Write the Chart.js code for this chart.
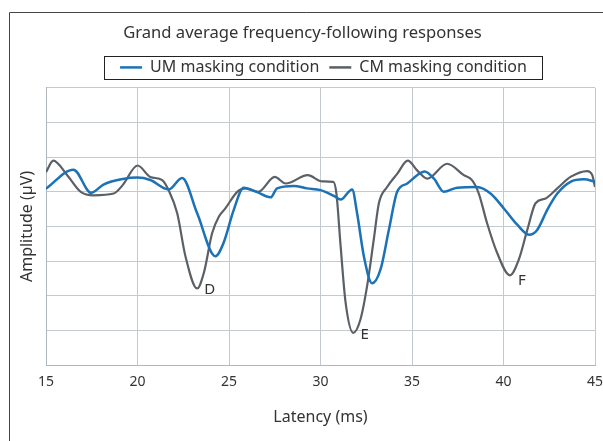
<!DOCTYPE html>
<html>
<head>
<meta charset="utf-8">
<script src="https://cdn.jsdelivr.net/npm/chart.js@4.4.0/dist/chart.umd.min.js"></script>
<style>
html, body { margin: 0; padding: 0; background: #fff; }
</style>
</head>
<body>
<canvas id="canvas_ffr" width="603" height="441"></canvas>
<script>
'use strict';
// latency (ms) and amplitude (arbitrary µV units, one grid step = 1)
var umLatency = [15.0, 16.5, 17.47, 18.14, 19.2, 20.0, 20.7, 21.7, 22.44, 23.26, 24.26, 24.7, 25.26, 25.8, 26.5, 27.27, 27.63, 28.54, 29.27, 30.0, 30.73, 31.1, 31.73, 32.0, 32.37, 32.82, 33.28, 33.74, 34.19, 34.74, 35.28, 35.69, 36.2, 36.74, 37.47, 38.56, 39.29, 40.02, 40.75, 41.39, 41.84, 42.39, 42.94, 43.66, 44.4, 45.0];
var umAmp     = [0.09, 0.64, -0.03, 0.21, 0.37, 0.41, 0.34, 0.07, 0.40, -0.62, -1.86, -1.48, -0.52, 0.12, 0.0, -0.16, 0.10, 0.17, 0.10, 0.05, -0.12, -0.22, 0.07, -0.62, -1.86, -2.64, -2.24, -1.09, 0.0, 0.24, 0.48, 0.59, 0.38, 0.0, 0.12, 0.14, -0.05, -0.48, -0.95, -1.24, -1.10, -0.52, -0.05, 0.29, 0.36, 0.29];

var cmLatency = [15.0, 15.4, 16.16, 16.9, 17.6, 18.7, 19.2, 20.0, 20.7, 21.35, 21.7, 22.17, 22.62, 23.26, 23.63, 24.08, 24.45, 24.8, 25.45, 25.9, 26.6, 27.5, 28.1, 29.3, 30.1, 30.7, 30.87, 31.1, 31.37, 31.79, 32.19, 32.55, 32.91, 33.19, 33.64, 34.19, 34.77, 35.28, 35.83, 36.92, 37.83, 38.29, 38.65, 39.1, 39.65, 40.35, 40.84, 41.3, 41.75, 42.3, 42.94, 43.66, 44.57, 44.85, 45.0];
var cmAmp     = [0.57, 0.90, 0.48, 0.0, -0.10, -0.05, 0.20, 0.76, 0.43, 0.34, 0.05, -0.62, -1.86, -2.79, -2.33, -1.19, -0.71, -0.48, 0.0, 0.10, 0.0, 0.43, 0.24, 0.48, 0.30, 0.29, -0.05, -1.57, -3.19, -4.07, -3.67, -2.71, -1.38, -0.33, 0.14, 0.52, 0.90, 0.62, 0.38, 0.81, 0.48, 0.33, -0.05, -0.90, -1.76, -2.41, -1.95, -1.10, -0.33, -0.19, 0.10, 0.43, 0.60, 0.48, 0.14];

var xTicks = [15, 20, 25, 30, 35, 40, 45];
var peakNames   = ['D', 'E', 'F'];
var peakLatency = [23.95, 32.42, 41.0];
var peakAmp     = [-2.83, -4.12, -2.57];

var seriesNames = ['UM masking condition', 'CM masking condition'];
var azul = '#1b72b6',
    gris = '#5b6066',
    texto = '#333333',
    rejilla = '#c4c9cf',
    fuente = "'Noto Sans', sans-serif";

function puntos(xs, ys) {
    return xs.map(function (x, i) { return { x: x, y: ys[i] }; });
}

// outer frame (left + top edge only visible) and white background
var marco = {
    id: 'marco',
    beforeDraw: function (chart) {
        var ctx = chart.ctx;
        ctx.save();
        ctx.fillStyle = '#fff';
        ctx.fillRect(0, 0, chart.width, chart.height);
        ctx.strokeStyle = '#444';
        ctx.lineWidth = 1;
        ctx.beginPath();
        ctx.moveTo(9.5, chart.height);
        ctx.lineTo(9.5, 12.5);
        ctx.lineTo(chart.width, 12.5);
        ctx.stroke();
        ctx.restore();
    }
};

// legend: shift right, line samples and a box around it
var cajaLeyenda = {
    id: 'cajaLeyenda',
    afterLayout: function (chart) {
        chart.legend.left += 21;
        chart.legend.right += 21;
    },
    afterDraw: function (chart) {
        var hb = chart.legend.legendHitBoxes;
        if (!hb || !hb.length) return;
        var ctx = chart.ctx;
        ctx.save();
        hb.forEach(function (b, i) {
            var cy = b.top + b.height / 2;
            ctx.strokeStyle = chart.data.datasets[i].borderColor;
            ctx.lineWidth = 2.5;
            ctx.beginPath();
            ctx.moveTo(b.left, cy);
            ctx.lineTo(b.left + 22, cy);
            ctx.stroke();
        });
        var last = hb[hb.length - 1];
        var cy0 = hb[0].top + hb[0].height / 2;
        var x0 = Math.round(hb[0].left - 16);
        ctx.strokeStyle = '#222';
        ctx.lineWidth = 1;
        ctx.strokeRect(x0 + 0.5, Math.round(cy0 - 11.5) + 0.5,
            Math.round(last.left + last.width + 15 - x0), 23);
        ctx.restore();
    }
};

// D, E, F peak labels
var etiquetas = {
    id: 'etiquetas',
    afterDatasetsDraw: function (chart) {
        var ctx = chart.ctx,
            sx = chart.scales.x,
            sy = chart.scales.y;
        ctx.save();
        ctx.fillStyle = texto;
        ctx.font = '15px ' + fuente;
        ctx.textAlign = 'center';
        ctx.textBaseline = 'middle';
        peakNames.forEach(function (n, i) {
            ctx.fillText(n, sx.getPixelForValue(peakLatency[i]), sy.getPixelForValue(peakAmp[i]));
        });
        ctx.restore();
    }
};

var datosFFR = {
    type: 'line',
    data: {
        datasets: [{
            label: seriesNames[0],
            data: puntos(umLatency, umAmp),
            borderColor: azul,
            backgroundColor: azul,
            borderWidth: 2.5,
            pointRadius: 0,
            cubicInterpolationMode: 'monotone'
        }, {
            label: seriesNames[1],
            data: puntos(cmLatency, cmAmp),
            borderColor: gris,
            backgroundColor: gris,
            borderWidth: 2.2,
            pointRadius: 0,
            cubicInterpolationMode: 'monotone'
        }]
    },
    options: {
        responsive: false,
        animation: false,
        layout: { padding: { left: 10, right: 8, top: 10, bottom: 10 } },
        plugins: {
            title: {
                display: true,
                text: 'Grand average frequency-following responses',
                color: texto,
                font: { family: fuente, size: 16.6, weight: 'normal', lineHeight: 1.2 },
                padding: { top: 13, bottom: 4 }
            },
            legend: {
                display: true,
                labels: {
                    color: texto,
                    font: { family: fuente, size: 16 },
                    boxWidth: 22,
                    boxHeight: 21,
                    padding: 10,
                    generateLabels: function (chart) {
                        var items = Chart.defaults.plugins.legend.labels.generateLabels(chart);
                        items.forEach(function (it) {
                            it.fillStyle = 'rgba(0,0,0,0)';
                            it.strokeStyle = 'rgba(0,0,0,0)';
                            it.lineWidth = 0;
                        });
                        return items;
                    }
                }
            },
            tooltip: { enabled: false }
        },
        scales: {
            x: {
                type: 'linear',
                min: 15,
                max: 45,
                afterBuildTicks: function (s) {
                    s.ticks = xTicks.map(function (v) { return { value: v }; });
                },
                afterFit: function (s) {
                    s.height = 66;
                    s.paddingLeft = 0;
                    s.paddingRight = 0;
                },
                grid: { color: rejilla, drawTicks: false },
                border: { color: '#b0b6bd' },
                ticks: { color: texto, font: { family: fuente, size: 14 }, padding: 9, maxRotation: 0 },
                title: {
                    display: true,
                    text: 'Latency (ms)',
                    color: texto,
                    font: { family: fuente, size: 16 },
                    padding: { top: 4, bottom: 4 }
                }
            },
            y: {
                min: -5,
                max: 3,
                ticks: { display: false, stepSize: 1 },
                afterFit: function (s) { s.width = 36; },
                grid: { color: rejilla, drawTicks: false },
                border: { color: '#b0b6bd' },
                title: {
                    display: true,
                    text: 'Amplitude (µV)',
                    color: texto,
                    font: { family: fuente, size: 16 },
                    padding: { top: 8, bottom: 4 }
                }
            }
        }
    },
    plugins: [marco, cajaLeyenda, etiquetas]
};

var canvasFFR = document.getElementById('canvas_ffr').getContext('2d');
window.grafica = new Chart(canvasFFR, datosFFR);
</script>
</body>
</html>
